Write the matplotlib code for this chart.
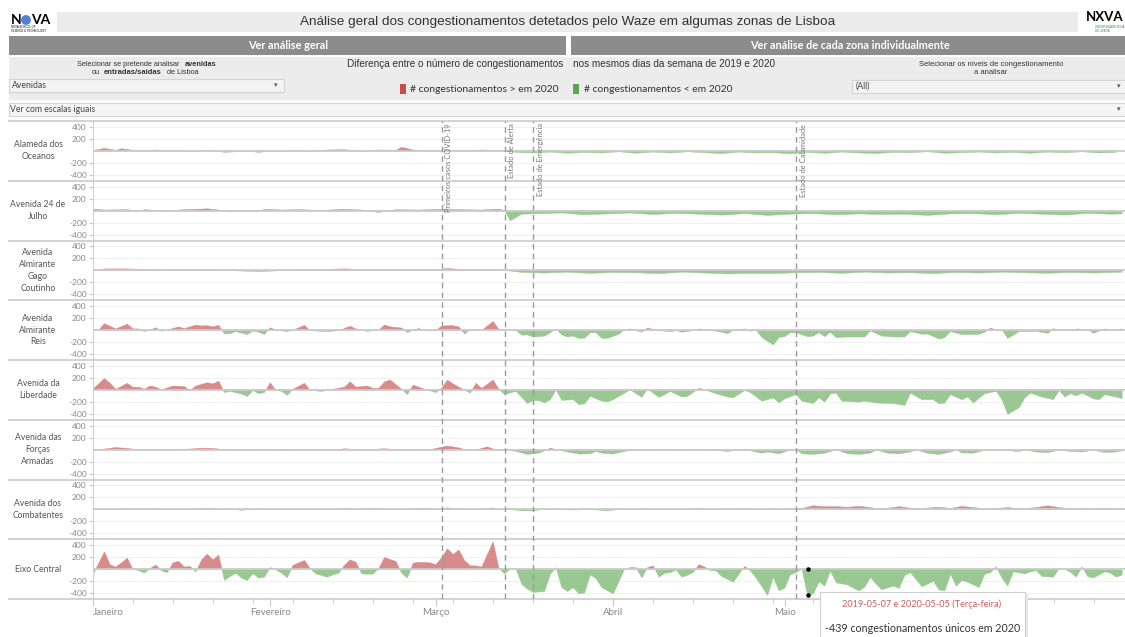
import numpy as np
import matplotlib

matplotlib.use("Agg")
import matplotlib.pyplot as plt
from matplotlib.patches import Rectangle, Circle

plt.rcParams["font.family"] = ["Liberation Sans", "DejaVu Sans"]
TAB = ["Lato", "DejaVu Sans"]

W, H = 1125, 637

# ---- data: day offset from 2020-01-01 and difference (2020 - 2019) ----
row_names = ["Alameda dos\nOceanos", "Avenida 24 de\nJulho", "Avenida\nAlmirante\nGago\nCoutinho",
             "Avenida\nAlmirante\nReis", "Avenida da\nLiberdade", "Avenida das\nForças\nArmadas",
             "Avenida dos\nCombatentes", "Eixo Central"]

oceanos_days = [0, 2, 4, 5, 7, 9, 11, 13, 15, 17, 19, 21, 23, 25, 27, 29, 31, 33, 35, 38, 41, 44, 47, 50,
                53, 54, 56, 59, 62, 65, 68, 70, 72, 74, 77, 80, 83, 86, 89, 92, 95, 98, 101, 104, 107,
                110, 113, 116, 119, 122, 125, 128, 131, 134, 137, 140, 143, 146, 149, 152, 155, 158,
                161, 164, 167, 170, 173, 176, 179]
oceanos_vals = [5, 40, 10, 35, 10, 5, 15, 5, 0, -10, 0, 5, -25, -15, -5, -25, -5, -15, 5, -10, 15, 20,
                -10, 15, 10, 60, 15, 5, 15, 5, 15, 10, 0, -25, -35, -20, -40, -25, -35, -15, -40, -20,
                -35, -15, -30, -45, -20, -35, -30, -50, -25, -40, -20, -35, -45, -25, -30, -15, -40,
                -30, -20, -35, -25, -40, -20, -30, -15, -35, -25]

julho_days = [0, 2, 6, 8, 9, 11, 12, 15, 20, 22, 24, 29, 30, 33, 36, 40, 44, 47, 50, 53, 57, 61, 64,
              68, 71, 72, 73, 75, 78, 82, 86, 90, 94, 98, 102, 106, 110, 114, 118, 122, 126, 130, 134,
              138, 142, 146, 150, 154, 158, 162, 166, 170, 174, 178, 180]
julho_vals = [25, 10, 15, -10, 15, 5, -15, 10, 30, 10, -20, -10, 20, 10, 15, 5, 20, 10, -30, 15, 10,
              20, 15, 10, 25, 0, -170, -60, -50, -40, -70, -55, -40, -65, -45, -60, -75, -50, -80, -60,
              -50, -70, -55, -65, -60, -80, -55, -50, -70, -45, -60, -75, -45, -60, -55]

gago_days = [0, 2, 6, 9, 11, 15, 19, 21, 24, 29, 33, 36, 40, 44, 48, 52, 56, 60, 62, 65, 68, 71, 72,
             75, 79, 83, 87, 91, 95, 99, 103, 107, 111, 115, 119, 123, 127, 131, 135, 139, 143, 147,
             151, 155, 159, 163, 167, 171, 175, 180]
gago_vals = [-5, 25, 25, 15, 5, 15, 20, 10, -5, -20, -5, 10, 15, 25, 10, 20, 15, 10, 30, 15, 20, 10,
             0, -35, -45, -30, -50, -35, -40, -55, -30, -45, -60, -50, -55, -40, -35, -50, -30, -45,
             -40, -55, -35, -45, -30, -40, -50, -35, -45, -30]

reis_days = [0, 1, 2, 3, 4, 6, 7, 8, 9, 10, 11, 12, 13, 15, 16, 18, 19, 20, 21, 22, 23, 24, 25, 27, 28,
             29, 30, 31, 32, 34, 35, 37, 38, 41, 43, 45, 46, 48, 50, 51, 52, 54, 55, 56, 57, 58, 59,
             60, 61, 62, 63, 64, 65, 66, 68, 70, 71, 72, 74, 75, 76, 77, 79, 80, 81, 82, 83, 84, 85,
             86, 87, 88, 89, 90, 92, 93, 94, 96, 97, 99, 101, 102, 103, 104, 106, 107, 110, 111, 112,
             114, 115, 116, 117, 119, 120, 121, 122, 123, 125, 126, 127, 128, 129, 130, 132, 135,
             136, 138, 140, 142, 143, 145, 146, 148, 149, 150, 152, 153, 155, 156, 157, 158, 159,
             160, 162, 164, 165, 167, 168, 169, 171, 172, 174, 175, 177, 178, 180]
reis_vals = [-5, 0, 110, 65, 20, 100, 20, 20, -25, 0, 40, -20, 0, 55, 25, 85, 70, 75, 55, 80, -65, -60,
             -25, -75, -15, -35, -75, 40, 0, -25, 0, 80, -10, -25, -10, 65, 20, -20, 0, 85, 55, 35,
             -45, 5, 25, 0, -15, 0, 65, 75, 75, 55, -65, 5, -5, 145, 10, 0, -5, -85, -80, -115, -100,
             -45, 20, -80, -115, -100, -140, -135, -45, -45, -140, -140, -70, 10, 20, -35, 35, -10,
             -25, -10, -35, -25, 20, 10, -35, -60, 0, 20, -20, 0, -125, -250, -125, -110, -45, -45,
             -110, -100, -45, -110, -35, -125, -115, -115, -15, -100, -115, -115, -25, -70, -65,
             -150, -125, -25, -75, -75, -70, -35, 35, 0, 0, -140, -25, -25, -20, -55, 25, -5, 0, 20,
             10, -55, 20, 0, 20]

liberdade_days = [0, 2, 3, 4, 6, 7, 8, 9, 10, 11, 12, 14, 16, 17, 18, 20, 21, 22, 23, 24, 26, 27, 28,
                  29, 30, 31, 32, 33, 34, 35, 37, 38, 40, 42, 44, 45, 46, 48, 49, 50, 51, 52, 54, 55,
                  56, 58, 60, 61, 62, 63, 64, 66, 67, 68, 70, 71, 72, 74, 76, 77, 78, 79, 80, 81, 82,
                  84, 85, 86, 87, 89, 90, 91, 93, 94, 96, 97, 99, 100, 101, 103, 104, 106, 107, 109,
                  111, 112, 114, 115, 117, 119, 120, 121, 123, 124, 126, 127, 128, 129, 130, 131, 134,
                  135, 137, 140, 142, 143, 145, 147, 148, 149, 150, 152, 153, 154, 156, 158, 159, 160,
                  162, 163, 164, 166, 168, 169, 170, 171, 172, 173, 175, 176, 177, 180]
liberdade_vals = [10, 190, 110, 10, 110, 45, 45, 10, 65, 45, 0, 65, 55, -15, 65, 120, 100, 145, -45,
                  -25, -70, -110, -10, -65, -45, 120, -10, -25, -90, 10, 110, -10, -25, 10, 45, 135,
                  45, 65, 25, 25, 135, 165, 10, -80, 80, 10, -45, 25, 165, 100, 45, -55, 110, 25, 165,
                  10, -80, -25, -230, -180, -180, -220, -165, 0, -175, -165, -245, -235, -110, -190,
                  -200, -165, -55, 0, -125, 10, -125, -80, -25, -120, -110, 25, 0, -65, -120, -135,
                  -10, -45, -190, -135, -220, -150, -80, -190, -230, -135, -205, -70, -55, -190, -205,
                  -190, -220, -230, -260, -55, -165, -165, -235, -220, -80, -165, -120, -220, -65, -25,
                  -165, -410, -300, -135, -55, -120, -165, -10, -120, -65, -100, -55, -150, -165, -80,
                  -145]

forcas_days = [0, 2, 4, 6, 8, 10, 12, 14, 17, 19,
               21, 23, 25, 27, 29, 31, 33, 35, 37, 39,
               41, 43, 44, 46, 48, 50, 51, 53, 55, 57,
               59, 60, 62, 64, 65, 67, 69, 70, 71, 72,
               74, 76, 78, 79, 80, 81, 83, 85, 87, 88,
               89, 91, 93, 95, 98, 100, 103, 106, 109, 111,
               113, 115, 117, 118, 120, 122, 123, 124, 126, 128,
               130, 132, 134, 136, 137, 139, 141, 143, 144, 146,
               148, 150, 151, 152, 154, 156, 158, 160, 162, 163,
               165, 167, 169, 171, 173, 175, 177, 179, 180]
forcas_vals = [0, 10, 35, 20, -5, 0, -5, 5, 10, 25,
               20, 0, -10, -15, 0, -5, -20, -5, 0, -5,
               5, 0, 15, 0, -15, 10, 15, 0, -15, -5,
               0, 20, 60, 30, 0, -5, 45, 10, -10, 0,
               -30, -80, -60, -20, 25, 0, -40, -75, -70, -30,
               -60, -75, -30, -5, -10, 0, -10, 0, -15, -30,
               -5, -20, -60, -40, -70, -5, 0, -70, -80, -60,
               -5, -70, -80, -60, -5, -60, -70, -40, -5, -60,
               -80, -40, -5, -55, -60, -10, -5, -15, -35, -5,
               -40, -50, -10, -30, -40, -10, -50, -40, -20]

combatentes_days = [0, 2, 3, 5, 7, 9, 11, 13, 16, 19,
                    20, 22, 24, 26, 27, 28, 30, 33, 36, 40,
                    42, 44, 46, 48, 50, 52, 54, 56, 58, 60,
                    62, 64, 66, 68, 70, 71, 73, 75, 77, 79,
                    81, 83, 85, 87, 90, 92, 95, 97, 100, 103,
                    106, 108, 111, 114, 116, 119, 121, 123, 124, 126,
                    128, 130, 132, 134, 136, 137, 139, 141, 143, 145,
                    147, 148, 150, 152, 154, 156, 158, 160, 162, 163,
                    165, 167, 169, 170, 172, 173, 175, 177, 179, 180]
combatentes_vals = [0, 10, 0, 10, 0, -5, 10, 0, 5, 15,
                    20, 5, 0, -15, -5, -10, 0, 5, 0, 5,
                    0, 20, 0, 15, 10, 5, 0, 10, 20, 5,
                    25, 10, 0, 5, 25, -10, 0, -25, -25, 5,
                    0, -10, -10, 0, -25, 0, 5, 10, 0, 5,
                    15, 5, -5, 15, 5, 10, 5, 20, 15, 60,
                    45, 45, 35, 50, 30, 15, 20, 45, 20, 15,
                    30, 35, 15, 50, 30, 10, 15, 30, 10, 15,
                    30, 60, 30, 20, 10, 15, 10, 20, 10, 15]

eixo_days = [0, 2, 3, 4, 5, 6, 7, 8, 9, 10, 11, 12, 13, 14, 15, 16, 17, 18, 19, 20, 21, 22, 23, 24,
             25, 26, 27, 28, 29, 30, 31, 32, 33, 34, 35, 37, 38, 39, 41, 42, 43, 44, 45, 46, 47, 48,
             49, 50, 51, 52, 53, 54, 55, 56, 57, 59, 60, 61, 62, 63, 64, 65, 66, 67, 68, 70, 71, 72,
             73, 74, 75, 76, 77, 79, 80, 81, 82, 83, 84, 85, 86, 87, 88, 89, 91, 93, 94, 95, 96, 97,
             98, 99, 100, 101, 102, 103, 104, 105, 106, 107, 108, 109, 110, 112, 113, 114, 115, 116,
             118, 119, 120, 121, 122, 123, 124, 125, 126, 127, 128, 129, 130, 132, 133, 134, 135,
             136, 137, 138, 140, 141, 142, 143, 145, 147, 148, 149, 150, 151, 152, 153, 155, 156,
             157, 158, 159, 160, 161, 163, 164, 165, 166, 168, 169, 170, 171, 172, 173, 174, 175,
             176, 177, 178, 179, 180]
eixo_vals = [-95, 290, 75, 35, 105, 185, -5, -25, -65, 10, 70, -30, -60, 105, 130, 35, 45, -50, 155,
             250, 155, 235, -190, -125, -70, -150, -190, -75, -150, -135, 25, -10, -70, -145, 65,
             145, 10, -80, -135, -95, -70, 65, 155, 115, -80, -85, -85, 10, 195, 160, 130, -70,
             -150, 100, 115, 105, 75, 195, 340, 245, 320, 145, 55, 55, 35, 460, 10, -80, 0, 0, -255,
             -335, -390, -375, -85, 25, -310, -375, -310, -415, -400, -95, -160, -310, -415, 0, 25,
             25, -150, 25, 55, -135, -70, -60, -15, -135, -105, -55, 75, 35, -25, -30, -125, -220,
             -85, 45, -30, -150, -440, -140, -365, -320, -95, -60, 0, -439, -415, -215, -285, -30,
             -230, -265, -320, -365, -300, -140, -255, -345, -285, -325, -105, -60, -295, -205,
             -350, -365, -85, -285, -190, -220, -310, -85, -60, 35, -150, -285, -45, -80, -45, -25,
             -125, -135, 10, 0, -55, -135, 35, -125, -150, -95, -45, -70, -135, -100]

rows_days = [oceanos_days, julho_days, gago_days, reis_days, liberdade_days, forcas_days,
             combatentes_days, eixo_days]
rows_vals = [oceanos_vals, julho_vals, gago_vals, reis_vals, liberdade_vals, forcas_vals,
             combatentes_vals, eixo_vals]

event_days = [61, 72, 77, 123]
event_labels = ["Primeiros casos COVID-19", "Estado de Alerta", "Estado de Emergência",
                "Estado de Calamidade"]
month_days = [0, 31, 60, 91, 121, 152]
month_labels = ["Janeiro", "Fevereiro", "Março", "Abril", "Maio", "Junho"]
yticks = [400, 200, -200, -400]

tip_day = 125
tip_value = -439

RED = "#d78b8b"
GREEN = "#9ac892"

fig = plt.figure(figsize=(W / 100, H / 100), dpi=100)

# background / header drawn in pixel coordinates
bg = fig.add_axes([0, 0, 1, 1], zorder=-1)
bg.set_xlim(0, W)
bg.set_ylim(H, 0)
bg.axis("off")


def box(x0, y0, x1, y1, fc, ec="none", lw=0.8):
    bg.add_patch(Rectangle((x0, y0), x1 - x0, y1 - y0, facecolor=fc, edgecolor=ec, linewidth=lw))


# logos
bg.text(11, 20, "N", fontsize=10, fontweight="bold", family=TAB, va="center", ha="left")
bg.add_patch(Circle((26, 20), 4.2, color="#4f7fd6"))
bg.text(31, 20, "VA", fontsize=10, fontweight="bold", family=TAB, va="center", ha="left")
bg.text(11, 29.5, "NOVA SCHOOL OF\nSCIENCE & TECHNOLOGY", fontsize=2, va="center", ha="left",
        linespacing=1.0)
bg.text(1086, 17, "NXVA", fontsize=9.5, fontweight="bold", family=TAB, va="center", ha="left")
bg.text(1095, 29, "UNIVERSIDADE NOVA\nDE LISBOA", fontsize=2, va="center", ha="left",
        color="#2b8a3e", linespacing=1.0)

# title bar
box(57, 12, 1078, 32, "#ebebeb")
bg.text(568, 21.5, "Análise geral dos congestionamentos detetados pelo Waze em algumas zonas de Lisboa",
        fontsize=9.7, color="#333333", ha="center", va="center")

# section buttons
box(9, 36, 566, 55, "#8c8c8c")
box(571, 36, 1125, 55, "#8c8c8c")
bg.text(288, 45.5, "Ver análise geral", fontsize=7.8, fontweight="bold", color="white",
        ha="center", va="center", family=TAB)
bg.text(850, 45.5, "Ver análise de cada zona individualmente", fontsize=7.8, fontweight="bold",
        color="white", ha="center", va="center", family=TAB)

# filter panel
box(9, 57, 1125, 100, "#ececec")
bg.text(77, 64, "Selecionar se pretende analisar", fontsize=5.3, color="#333333", va="center")
bg.text(185, 64, "avenidas", fontsize=5.3, color="#333333", va="center", fontweight="bold")
bg.text(92, 72, "ou", fontsize=5.3, color="#333333", va="center")
bg.text(104, 72, "entradas/saidas", fontsize=5.5, color="#333333", va="center", fontweight="bold")
bg.text(167, 72, "de Lisboa", fontsize=5.3, color="#333333", va="center")
box(9, 79, 284, 92, "#f3f3f3", "#d4d4d4")
bg.text(12, 85.5, "Avenidas", fontsize=6.2, color="#444444", va="center", family=TAB)
bg.text(276, 85.5, "▾", fontsize=5, color="#555555", va="center", ha="center")

bg.text(563, 64, "Diferença entre o número de congestionamentos", fontsize=7.2, color="#333333",
        ha="right", va="center")
bg.text(573, 64, "nos mesmos dias da semana de 2019 e 2020", fontsize=7.2, color="#333333",
        ha="left", va="center")
box(400, 84, 406, 94, "#c94c4c")
bg.text(410, 89, "# congestionamentos > em 2020", fontsize=7.5, color="#333333", va="center",
        family=TAB)
box(573, 84, 579, 94, "#5aa84c")
bg.text(584, 89, "# congestionamentos < em 2020", fontsize=7.5, color="#333333", va="center",
        family=TAB)

bg.text(991, 64, "Selecionar os níveis de congestionamento", fontsize=5.5, color="#333333",
        ha="center", va="center")
bg.text(991, 72, "a analisar", fontsize=5.5, color="#333333", ha="center", va="center")
box(852, 80, 1125, 93, "#f3f3f3", "#d4d4d4")
bg.text(856, 86.5, "(All)", fontsize=6.2, color="#444444", va="center", family=TAB)
bg.text(1119, 86.5, "▾", fontsize=5, color="#555555", va="center", ha="center")

box(9, 103, 1125, 116, "#f5f5f5", "#d4d4d4")
bg.text(10, 109.5, "Ver com escalas iguais", fontsize=6.2, color="#444444", va="center", family=TAB)
bg.text(1119, 109.5, "▾", fontsize=5, color="#555555", va="center", ha="center")

# ---- small multiples ----
top0, row_h = 121, 59.75
x0, x1 = 93, 1125
xmax = 180.5
axes = []
for i, (name, d, v) in enumerate(zip(row_names, rows_days, rows_vals)):
    top = top0 + i * row_h
    ax = fig.add_axes([x0 / W, 1 - (top + row_h) / H, (x1 - x0) / W, row_h / H])
    ax.set_facecolor("none")
    d = np.array(d, dtype=float)
    v = np.array(v, dtype=float)
    for yy in yticks:
        ax.axhline(yy, color="#f1f1f1", lw=0.8, zorder=0)
    ax.fill_between(d, v, 0, where=v >= 0, interpolate=True, color=RED, lw=0.3, zorder=2)
    ax.fill_between(d, v, 0, where=v <= 0, interpolate=True, color=GREEN, lw=0.3, zorder=2)
    ax.axhline(0, color="#cbcbcb", lw=1.3, zorder=3)
    ax.set_xlim(0, xmax)
    ax.set_ylim(-500, 500)
    ax.set_yticks(yticks)
    ax.set_yticklabels([str(t) for t in yticks])
    ax.tick_params(axis="y", length=3, color="#c8c8c8", labelsize=6, labelcolor="#888888", pad=1.5)
    for lab in ax.get_yticklabels():
        lab.set_family(TAB)
    for s in ["top", "right", "bottom"]:
        ax.spines[s].set_visible(False)
    ax.spines["left"].set_color("#cfcfcf")
    ax.spines["left"].set_linewidth(0.8)
    ax.set_xticks([])
    bg.text(38, top + row_h / 2, name, fontsize=6.2, color="#555555", ha="center", va="center",
            linespacing=1.4, family=TAB)
    bg.plot([9, x1], [top + row_h, top + row_h], color="#d3d3d3", lw=1.5)
    axes.append(ax)
bg.plot([9, x1], [top0, top0], color="#d3d3d3", lw=1.5)

# bottom time axis on last row
last = axes[-1]
last.set_xticks(month_days)
last.set_xticklabels(month_labels)
last.set_xticks(np.arange(7, 181, 7), minor=True)
last.tick_params(axis="x", which="major", length=5, color="#c8c8c8", labelsize=7,
                 labelcolor="#888888", pad=1.5)
last.tick_params(axis="x", which="minor", length=3, color="#c8c8c8")
for lab in last.get_xticklabels():
    lab.set_family(TAB)
last.get_xticklabels()[0].set_ha("left")

# hovered point markers
last.scatter([tip_day, tip_day], [0, tip_value], s=5, color="black", zorder=6)

# event lines overlay
ev = fig.add_axes([x0 / W, 1 - (top0 + 8 * row_h) / H, (x1 - x0) / W, 8 * row_h / H], zorder=5)
ev.set_facecolor("none")
ev.set_xlim(0, xmax)
ev.set_ylim(0, 1)
ev.axis("off")
for d, lab in zip(event_days, event_labels):
    ev.axvline(d, color="#9a9a9a", lw=1.0, ls=(0, (4, 3)))
    ev.text(d + 0.6, 0.995, lab, rotation=90, ha="left", va="top", fontsize=5.4, color="#777777",
            family=TAB)

# tooltip
tip = fig.add_axes([0, 0, 1, 1], zorder=10)
tip.set_xlim(0, W)
tip.set_ylim(H, 0)
tip.axis("off")
tip.add_patch(Rectangle((822, 594), 206, 50, facecolor="#e9e9e9", edgecolor="none"))
tip.add_patch(Rectangle((820, 592), 205, 50, facecolor="white", edgecolor="#d0d0d0", lw=0.8))
tip.text(922, 604.5, "2019-05-07 e 2020-05-05 (Terça-feira)", fontsize=6.6, color="#d05a5a",
         ha="center", va="center", family=TAB)
tip.text(923, 628.5, "-439 congestionamentos únicos em 2020", fontsize=7.7, color="#333333",
         ha="center", va="center", family=TAB)

fig.savefig("out.png", dpi=100)
